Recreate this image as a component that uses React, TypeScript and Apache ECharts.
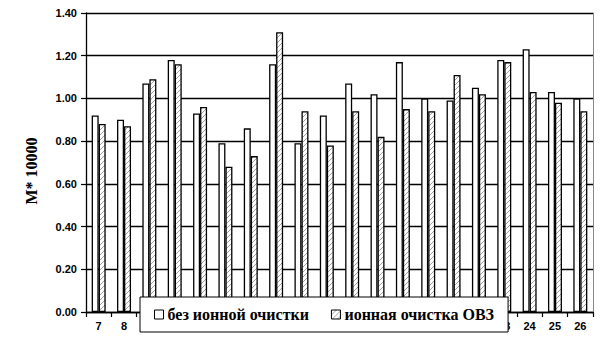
import React, { useEffect, useRef } from "react";
import * as echarts from "echarts";

const categories = ["7", "8", "9", "10", "11", "12", "13", "14", "15", "16", "17", "18", "19", "20", "21", "22", "23", "24", "25", "26"];
const withoutIon = [0.92, 0.90, 1.07, 1.18, 0.93, 0.79, 0.86, 1.16, 0.79, 0.92, 1.07, 1.02, 1.17, 1.00, 0.99, 1.05, 1.18, 1.23, 1.03, 1.00];
const withIon = [0.88, 0.87, 1.09, 1.16, 0.96, 0.68, 0.73, 1.31, 0.94, 0.78, 0.94, 0.82, 0.95, 0.94, 1.11, 1.02, 1.17, 1.03, 0.98, 0.94];
const seriesNames = ["без ионной очистки", "ионная очистка ОВЗ"];
const yTitle = "M* 10000";

const hatchSvg =
  "<svg xmlns='http://www.w3.org/2000/svg' width='5' height='5'>" +
  "<rect width='5' height='5' fill='white'/>" +
  "<path d='M-1,1 L1,-1 M0,5 L5,0 M4,6 L6,4' stroke='#8a8a8a' stroke-width='0.8'/>" +
  "</svg>";
const hatchUrl = "data:image/svg+xml;charset=utf-8," + encodeURIComponent(hatchSvg);

const sans = "'Liberation Sans', Arial, sans-serif";
const serif = "'Liberation Serif', 'Times New Roman', serif";

export default function App() {
  const ref = useRef<HTMLDivElement>(null);
  useEffect(() => {
    if (!ref.current) return;
    const chart = echarts.init(ref.current, null, { renderer: "svg" });
    const hatch: any = { image: hatchUrl, repeat: "repeat", imageWidth: 5, imageHeight: 5 };
    chart.setOption({
      animation: false,
      backgroundColor: "#ffffff",
      grid: { left: 86, right: 12, top: 13, bottom: 28, containLabel: false },
      legend: {
        left: 140,
        top: 297,
        padding: [9, 14, 9, 14],
        itemGap: 22,
        itemWidth: 9,
        itemHeight: 9,
        icon: "rect",
        backgroundColor: "#ffffff",
        borderColor: "#000000",
        borderWidth: 1,
        itemStyle: { borderColor: "#000000", borderWidth: 1 },
        textStyle: { fontFamily: serif, fontWeight: "bold", fontSize: 16, color: "#000", lineHeight: 17, padding: [0, 0, 0, -1] },
        data: seriesNames,
        z: 10,
      },
      xAxis: {
        type: "category",
        data: categories,
        axisLine: { lineStyle: { color: "#000", width: 1.3 } },
        axisTick: { show: true, length: 5, lineStyle: { color: "#000", width: 1.2 } },
        axisLabel: { fontFamily: sans, fontWeight: "bold", fontSize: 11, color: "#000", margin: 8, interval: 0 },
      },
      yAxis: [
        {
          type: "value",
          min: 0,
          max: 1.4,
          interval: 0.2,
          axisLine: { show: true, lineStyle: { color: "#000", width: 1.3 } },
          axisTick: { show: true, length: 5, lineStyle: { color: "#000", width: 1.2 } },
          axisLabel: {
            fontFamily: sans,
            fontWeight: "bold",
            fontSize: 11,
            color: "#000",
            margin: 9,
            formatter: (v: number) => v.toFixed(2),
          },
          splitLine: { show: true, lineStyle: { color: "#000", width: 1.4 } },
        },
        {
          type: "value",
          position: "right",
          min: 0,
          max: 1.4,
          interval: 0.2,
          axisLine: { show: true, lineStyle: { color: "#888", width: 1 } },
          axisTick: { show: false },
          axisLabel: { show: false },
          splitLine: { show: false },
        },
      ],
      series: [
        {
          name: seriesNames[0],
          type: "bar",
          data: withoutIon,
          barWidth: 7,
          barGap: "0%",
          itemStyle: { color: "#ffffff", borderColor: "#000", borderWidth: 1.3 },
        },
        {
          name: seriesNames[1],
          type: "bar",
          data: withIon,
          barWidth: 7,
          barGap: "0%",
          itemStyle: { color: hatch, borderColor: "#000", borderWidth: 1.3 },
        },
      ],
      graphic: [
        {
          type: "text",
          x: 31,
          y: 171,
          rotation: Math.PI / 2,
          style: {
            text: yTitle,
            fontFamily: serif,
            fontWeight: "bold",
            fontSize: 16,
            fill: "#000",
            align: "center",
            verticalAlign: "middle",
          },
        },
      ],
    });
    return () => chart.dispose();
  }, []);
  return <div ref={ref} style={{ position: "fixed", left: 0, top: 0, width: 605, height: 340 }} />;
}
